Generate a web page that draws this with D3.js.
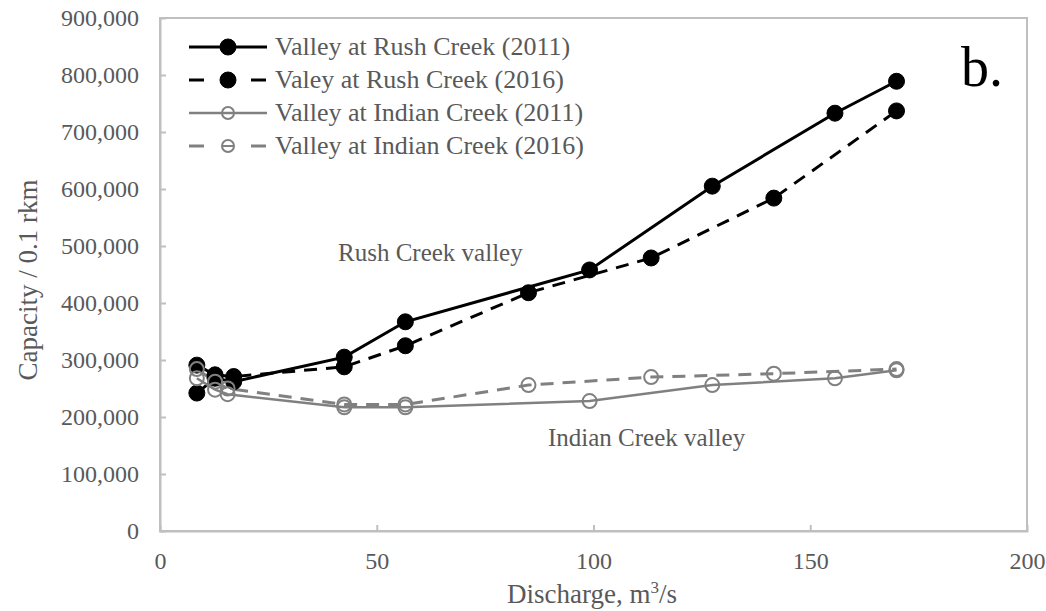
<!DOCTYPE html>
<html>
<head>
<meta charset="utf-8">
<script src="https://cdn.jsdelivr.net/npm/d3@7"></script>
<style>
  body { margin: 0; background: #fff; }
  svg text { font-family: "Liberation Serif", "Times New Roman", serif; }
</style>
</head>
<body>
<div class="card"></div>
<script>
const w = 1046;
const h = 611;

// discharge (m3/s) and capacity per 0.1 rkm
const rush2011X = [8.5, 12.7, 17.0, 42.5, 56.6, 99.1, 127.4, 155.7, 169.9];
const rush2011Y = [242000, 268000, 262000, 305000, 367000, 458000, 605000, 733000, 789000];
const rush2016X = [8.5, 12.7, 17.0, 42.5, 56.6, 85.0, 113.3, 141.6, 169.9];
const rush2016Y = [291000, 274000, 271000, 288000, 325000, 418000, 479000, 584000, 737000];
const indian2011X = [8.5, 12.7, 15.6, 42.5, 56.6, 99.1, 127.4, 155.7, 169.9];
const indian2011Y = [268000, 248000, 240000, 217000, 217000, 228000, 256000, 268000, 282000];
const indian2016X = [8.5, 12.7, 15.6, 42.5, 56.6, 85.0, 113.3, 141.6, 169.9];
const indian2016Y = [284000, 262000, 250000, 222000, 222000, 256000, 270000, 276000, 284000];

const seriesNames = ["Valley at Rush Creek (2011)", "Valey at Rush Creek (2016)",
                     "Valley at Indian Creek (2011)", "Valley at Indian Creek (2016)"];
const xTicks = [0, 50, 100, 150, 200];
const yTicks = [0, 100000, 200000, 300000, 400000, 500000, 600000, 700000, 800000, 900000];

const plotL = 160, plotR = 1027, plotT = 18, plotB = 531;

var svg = d3.select(".card")
    .append("svg")
    .attr("width", w)
    .attr("height", h);

var xScale = d3.scaleLinear().domain([0, 200]).range([plotL, plotR]);
var yScale = d3.scaleLinear().domain([0, 900000]).range([plotB, plotT]);

const frameCol = "#bfbfbf";
const textCol = "#595959";
const grayCol = "#808080";

// frame
svg.append("rect")
    .attr("x", plotL).attr("y", plotT)
    .attr("width", plotR - plotL).attr("height", plotB - plotT)
    .attr("fill", "none").attr("stroke", frameCol).attr("stroke-width", 2);

// axes with inside ticks
var yAxis = d3.axisLeft(yScale).tickValues(yTicks).tickSize(-6).tickPadding(21)
    .tickFormat(d3.format(","));
var gy = svg.append("g").attr("transform", "translate(" + plotL + ",0)").call(yAxis);

var xAxis = d3.axisBottom(xScale).tickValues(xTicks).tickSize(-6).tickPadding(21);
var gx = svg.append("g").attr("transform", "translate(0," + plotB + ")").call(xAxis);

[gx, gy].forEach(g => {
  g.attr("font-family", null);
  g.select(".domain").attr("stroke", frameCol).attr("stroke-width", 2);
  g.selectAll(".tick line").attr("stroke", frameCol).attr("stroke-width", 2);
  g.selectAll(".tick text").attr("fill", textCol).style("font-size", "24px");
});
gx.selectAll(".tick line").filter(d => d === 0 || d === 200).remove();
gy.selectAll(".tick line").filter(d => d === 0 || d === 900000).remove();

// axis titles
var xt = svg.append("text")
    .attr("x", 592).attr("y", 603)
    .attr("text-anchor", "middle")
    .attr("fill", textCol).style("font-size", "27px");
xt.append("tspan").text("Discharge, m");
xt.append("tspan").attr("dy", -10).style("font-size", "17px").text("3");
xt.append("tspan").attr("dy", 10).text("/s");

svg.append("text")
    .attr("transform", "translate(37,280) rotate(-90)")
    .attr("text-anchor", "middle")
    .attr("fill", textCol).style("font-size", "27px")
    .text("Capacity / 0.1 rkm");

// series
const series = [
  { x: rush2011X, y: rush2011Y, color: "#000", dash: null, filled: true, width: 3 },
  { x: rush2016X, y: rush2016Y, color: "#000", dash: "13,9", filled: true, width: 3 },
  { x: indian2011X, y: indian2011Y, color: grayCol, dash: null, filled: false, width: 2.5 },
  { x: indian2016X, y: indian2016Y, color: grayCol, dash: "13,9", filled: false, width: 3 }
];

var line = d3.line().x(d => xScale(d[0])).y(d => yScale(d[1]));

series.forEach(s => {
  var pts = s.x.map((v, i) => [v, s.y[i]]);
  svg.append("path")
     .datum(pts)
     .attr("d", line)
     .attr("fill", "none")
     .attr("stroke", s.color)
     .attr("stroke-width", s.width)
     .attr("stroke-dasharray", s.dash);
});

series.forEach(s => {
  var pts = s.x.map((v, i) => [v, s.y[i]]);
  svg.selectAll(null)
     .data(pts)
     .enter().append("circle")
     .attr("cx", d => xScale(d[0]))
     .attr("cy", d => yScale(d[1]))
     .attr("r", s.filled ? 8 : 7)
     .attr("fill", s.filled ? "#000" : "none")
     .attr("stroke", s.color)
     .attr("stroke-width", s.filled ? 1 : 2);
});

// legend
const legY = [47, 80, 113, 146];
series.forEach((s, i) => {
  var g = svg.append("g").attr("transform", "translate(0," + legY[i] + ")");
  if (s.dash) {
    g.append("line").attr("x1", 189).attr("x2", 204).attr("y1", 0).attr("y2", 0)
      .attr("stroke", s.color).attr("stroke-width", s.width);
    g.append("line").attr("x1", 251).attr("x2", 266).attr("y1", 0).attr("y2", 0)
      .attr("stroke", s.color).attr("stroke-width", s.width);
  } else {
    g.append("line").attr("x1", 189).attr("x2", 267).attr("y1", 0).attr("y2", 0)
      .attr("stroke", s.color).attr("stroke-width", s.width);
  }
  g.append("circle").attr("cx", 228).attr("cy", 0)
    .attr("r", s.filled ? 8 : 6)
    .attr("fill", s.filled ? "#000" : "none")
    .attr("stroke", s.color).attr("stroke-width", s.filled ? 1 : 2);
  if (s.dash && !s.filled) {
    g.append("line").attr("x1", 222).attr("x2", 234).attr("y1", 0).attr("y2", 0)
      .attr("stroke", s.color).attr("stroke-width", 2);
  }
  g.append("text").attr("x", 275).attr("y", 8)
    .attr("fill", textCol).style("font-size", "26px")
    .text(seriesNames[i]);
});

// annotations
svg.append("text").attr("x", 338).attr("y", 261)
   .attr("fill", textCol).style("font-size", "25px").text("Rush Creek valley");
svg.append("text").attr("x", 548).attr("y", 446)
   .attr("fill", textCol).style("font-size", "25px").text("Indian Creek valley");
svg.append("text").attr("x", 961).attr("y", 86)
   .attr("fill", "#000").style("font-size", "56px").text("b.");
</script>
</body>
</html>
